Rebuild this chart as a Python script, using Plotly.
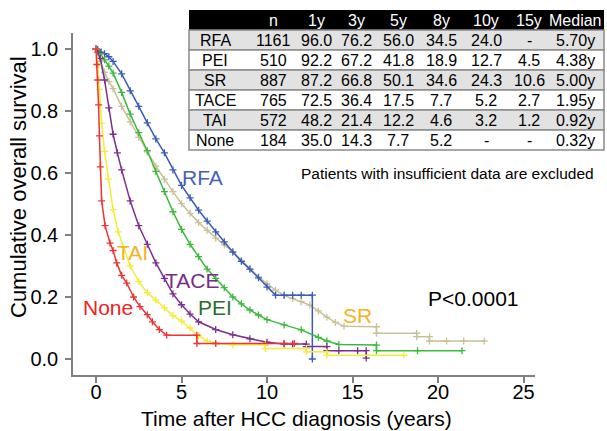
import plotly.graph_objects as go

# ---------------- table data ----------------
groups = ["RFA", "PEI", "SR", "TACE", "TAI", "None"]
header = ["n", "1y", "3y", "5y", "8y", "10y", "15y", "Median"]
n_pat = ["1161", "510", "887", "765", "572", "184"]
surv_1y = ["96.0", "92.2", "87.2", "72.5", "48.2", "35.0"]
surv_3y = ["76.2", "67.2", "66.8", "36.4", "21.4", "14.3"]
surv_5y = ["56.0", "41.8", "50.1", "17.5", "12.2", "7.7"]
surv_8y = ["34.5", "18.9", "34.6", "7.7", "4.6", "5.2"]
surv_10y = ["24.0", "12.7", "24.3", "5.2", "3.2", "-"]
surv_15y = ["-", "4.5", "10.6", "2.7", "1.2", "-"]
median = ["5.70y", "4.38y", "5.00y", "1.95y", "0.92y", "0.32y"]

# ---------------- curve data (years, cumulative survival) ----------------
rfa_t = [0, 0.1, 0.3, 0.5, 0.75, 1, 1.5, 2, 2.5, 3, 3.5, 4, 4.5, 5, 5.5, 6, 6.5, 7,
         7.5, 8, 8.5, 9, 9.5, 10, 10.5, 11, 11.5, 12, 12.65, 12.65]
rfa_s = [1, 0.998, 0.99, 0.985, 0.975, 0.96, 0.92, 0.865, 0.815, 0.762, 0.71, 0.665,
         0.61, 0.56, 0.52, 0.48, 0.445, 0.41, 0.378, 0.345, 0.315, 0.29, 0.262, 0.232,
         0.206, 0.206, 0.206, 0.206, 0.206, 0.0]

sr_t = [0, 0.25, 0.5, 0.75, 1, 1.5, 2, 2.5, 3, 3.5, 4, 4.5, 5, 5.5, 6, 6.5, 7, 7.5, 8,
        8.5, 9, 9.5, 10, 10.5, 11, 11.5, 12, 12.5, 13, 13.5, 14, 14.5, 16.4, 16.4,
        18.75, 18.75, 19.5, 19.5, 20.5, 21.5, 22.7]
sr_s = [1, 0.96, 0.925, 0.895, 0.872, 0.815, 0.765, 0.715, 0.668, 0.622, 0.58, 0.54,
        0.501, 0.47, 0.44, 0.415, 0.39, 0.368, 0.346, 0.318, 0.29, 0.265, 0.243, 0.222,
        0.205, 0.195, 0.185, 0.174, 0.155, 0.135, 0.118, 0.106, 0.104, 0.083, 0.083,
        0.072, 0.072, 0.058, 0.058, 0.058, 0.058]

pei_t = [0, 0.25, 0.5, 0.75, 1, 1.5, 2, 2.5, 3, 3.5, 4, 4.5, 5, 5.5, 6, 6.5, 7, 7.5, 8,
         8.5, 9, 9.5, 10, 11, 12, 13, 13.5, 14.2, 16.4, 16.4, 18.8, 21.4]
pei_s = [1, 0.985, 0.965, 0.945, 0.922, 0.86, 0.79, 0.73, 0.672, 0.605, 0.54, 0.475,
         0.418, 0.37, 0.33, 0.29, 0.26, 0.23, 0.2, 0.178, 0.158, 0.142, 0.127, 0.11,
         0.094, 0.07, 0.058, 0.047, 0.045, 0.027, 0.027, 0.027]

tace_t = [0, 0.1, 0.25, 0.5, 0.75, 1, 1.25, 1.5, 2, 2.5, 3, 3.5, 4, 4.5, 5, 5.5, 6, 7,
          8, 9, 10, 11, 11.5, 12.3, 12.3, 13.5, 13.5, 14.2, 15.3, 15.8, 15.8]
tace_s = [1, 0.99, 0.97, 0.9, 0.81, 0.725, 0.665, 0.61, 0.51, 0.43, 0.37, 0.31, 0.26,
          0.21, 0.175, 0.145, 0.12, 0.095, 0.078, 0.065, 0.054, 0.048, 0.048, 0.048,
          0.04, 0.04, 0.027, 0.027, 0.027, 0.027, 0.003]

tai_t = [0, 0.1, 0.2, 0.33, 0.5, 0.72, 1, 1.3, 1.6, 2, 2.5, 3, 3.5, 4, 4.5, 5, 5.5, 6,
         6.5, 7, 8, 9.9, 9.9, 12.3, 12.3, 13.5, 13.5, 18.0]
tai_s = [1, 0.95, 0.87, 0.76, 0.67, 0.58, 0.482, 0.41, 0.36, 0.3, 0.25, 0.214, 0.19,
         0.165, 0.14, 0.122, 0.1, 0.075, 0.058, 0.05, 0.046, 0.046, 0.034, 0.034,
         0.023, 0.023, 0.012, 0.012]

none_t = [0, 0.05, 0.1, 0.15, 0.2, 0.25, 0.33, 0.53, 0.82, 1, 1.21, 1.5, 1.8, 2.2,
          2.57, 3, 3.3, 3.7, 4.13, 5.9, 5.9, 7.0, 11.0, 11.6]
none_s = [1, 0.95, 0.9, 0.82, 0.72, 0.62, 0.51, 0.43, 0.374, 0.35, 0.31, 0.27, 0.245,
          0.2, 0.169, 0.143, 0.12, 0.095, 0.077, 0.077, 0.05, 0.05, 0.05, 0.05]

FONT = "Liberation Sans, Arial, Helvetica, sans-serif"

series = [
    ("SR", sr_t, sr_s, "#c9c198"),
    ("RFA", rfa_t, rfa_s, "#3a5cb8"),
    ("PEI", pei_t, pei_s, "#3cba3c"),
    ("TACE", tace_t, tace_s, "#7b2f8e"),
    ("TAI", tai_t, tai_s, "#f4ec3a"),
    ("None", none_t, none_s, "#ee3535"),
]

fig = go.Figure()
for name, t, s, col in series:
    fig.add_trace(go.Scatter(
        x=t, y=s, name=name, mode="lines+markers",
        line=dict(color=col, width=1.5),
        marker=dict(symbol="cross-thin", size=5, line=dict(color=col, width=1.3)),
        showlegend=False,
    ))

# pixel -> paper helpers (plot area: x 73..535, y 33..375)
L, R, T, B = 73, 535, 33, 375
def px(x):
    return (x - L) / (R - L)
def py(y):
    return (B - y) / (B - T)

shapes = []
annotations = []

# ---- table ----
tab_l, tab_r = 189, 604
head_top, head_bot = 10, 30
row_h = 20
col_x = [215, 273, 316, 356, 398, 441, 486, 529, 575]
shapes.append(dict(type="rect", xref="paper", yref="paper", layer="above",
                   x0=px(tab_l), x1=px(tab_r), y0=py(head_bot), y1=py(head_top),
                   fillcolor="black", line=dict(width=0)))
for i in range(len(groups)):
    y0 = head_bot + i * row_h
    shapes.append(dict(type="rect", xref="paper", yref="paper", layer="above",
                       x0=px(tab_l), x1=px(tab_r), y0=py(y0 + row_h), y1=py(y0),
                       fillcolor="#e2e2e2" if i % 2 == 0 else "white",
                       line=dict(color="#8a8a8a", width=1.5)))
for j, h in enumerate(header):
    annotations.append(dict(x=px(col_x[j + 1]), y=py((head_top + head_bot) / 2),
                            xref="paper", yref="paper", text=h, showarrow=False,
                            xanchor="center", yanchor="middle",
                            font=dict(family=FONT, size=16, color="white")))
cols = [groups, n_pat, surv_1y, surv_3y, surv_5y, surv_8y, surv_10y, surv_15y, median]
for i in range(len(groups)):
    yc = head_bot + i * row_h + row_h / 2
    for j, c in enumerate(cols):
        annotations.append(dict(x=px(col_x[j]), y=py(yc), xref="paper", yref="paper",
                                text=c[i], showarrow=False, xanchor="center",
                                yanchor="middle",
                                font=dict(family=FONT, size=16, color="black")))

# ---- curve labels and texts ----
labels = [
    ("RFA", 202, 178, "#4a62b4"),
    ("TAI", 132, 252, "#f5b222"),
    ("TACE", 192, 280, "#7b2a8a"),
    ("PEI", 215, 307, "#2b6e2b"),
    ("None", 108, 307, "#ee2222"),
    ("SR", 357, 315, "#f5b222"),
    ("P<0.0001", 473, 298, "black"),
]
for txt, x, y, col in labels:
    annotations.append(dict(x=px(x), y=py(y), xref="paper", yref="paper", text=txt,
                            showarrow=False, xanchor="center", yanchor="middle",
                            font=dict(family=FONT, size=21, color=col)))
annotations.append(dict(x=px(447), y=py(173), xref="paper", yref="paper",
                        text="Patients with insufficient data are excluded",
                        showarrow=False, xanchor="center", yanchor="middle",
                        font=dict(family=FONT, size=15.5, color="black")))
# axis titles
annotations.append(dict(x=px(296), y=py(418), xref="paper", yref="paper",
                        text="Time after HCC diagnosis (years)", showarrow=False,
                        xanchor="center", yanchor="middle",
                        font=dict(family=FONT, size=21, color="black")))
annotations.append(dict(x=px(18), y=py(187), xref="paper", yref="paper",
                        text="Cumulative overall survival", showarrow=False,
                        textangle=-90, xanchor="center", yanchor="middle",
                        font=dict(family=FONT, size=22, color="black")))

axis_common = dict(showgrid=False, zeroline=False, showline=True, linecolor="#808080",
                   linewidth=1.5, ticks="outside", ticklen=6, tickwidth=1.5,
                   tickcolor="#808080",
                   tickfont=dict(family=FONT, size=20, color="black"))

fig.update_layout(
    width=607, height=431,
    margin=dict(l=L, r=607 - R, t=T, b=431 - B),
    paper_bgcolor="white", plot_bgcolor="white",
    showlegend=False,
    xaxis=dict(range=[-1.345, 25.67], tickvals=[0, 5, 10, 15, 20, 25],
               ticklabelstandoff=-8, **axis_common),
    yaxis=dict(range=[-0.0516, 1.0516], tickvals=[0, 0.2, 0.4, 0.6, 0.8, 1.0],
               ticktext=["0.0", "0.2", "0.4", "0.6", "0.8", "1.0"],
               ticklabelstandoff=3, **axis_common),
    shapes=shapes,
    annotations=annotations,
)

fig.write_html("out.html", config={"displayModeBar": False},
               post_script="document.body.style.margin='0';document.body.style.overflow='hidden';")
